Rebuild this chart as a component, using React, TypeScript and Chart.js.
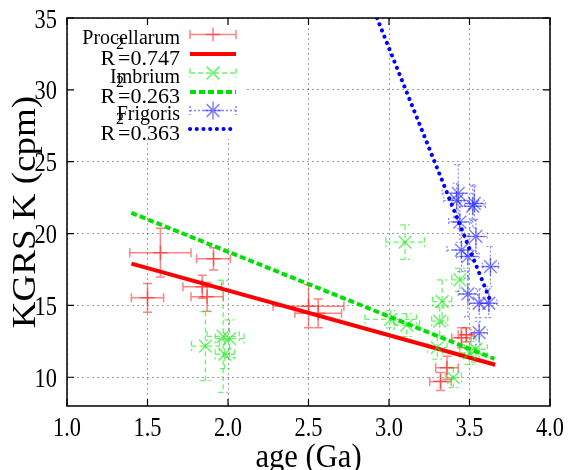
import React, { useEffect, useRef } from 'react';
import { Chart, registerables } from 'chart.js';

Chart.register(...registerables);

// ---------- data ----------
const xTicks = [1.0, 1.5, 2.0, 2.5, 3.0, 3.5, 4.0];
const yTicks = [10, 15, 20, 25, 30, 35];

const procAge = [1.50, 1.58, 1.84, 1.87, 1.91, 2.50, 2.56, 3.32, 3.36, 3.45, 3.48];
const procK = [15.53, 18.67, 16.3, 15.6, 18.24, 14.95, 14.45, 9.7, 10.67, 12.75, 12.95];
const procAgeErr = [0.10, 0.19, 0.12, 0.10, 0.105, 0.22, 0.145, 0.067, 0.07, 0.06, 0.05];
const procKErr = [1.0, 1.7, 0.8, 1.0, 0.78, 1.5, 1.0, 0.63, 0.8, 0.7, 0.5];

const imbAge = [1.86, 1.97, 2.01, 1.98, 3.01, 3.10, 3.11, 3.30, 3.315, 3.33, 3.44, 3.40, 3.50, 3.54];
const imbK = [12.17, 12.85, 12.69, 11.6, 14.03, 19.4, 13.63, 12.06, 13.9, 15.27, 16.78, 9.98, 11.7, 11.95];
const imbAgeErr = [0.087, 0.10, 0.09, 0.06, 0.16, 0.12, 0.08, 0.06, 0.05, 0.06, 0.05, 0.05, 0.06, 0.07];
const imbKErr = [2.4, 3.9, 1.3, 1.0, 0.6, 1.2, 0.8, 0.8, 1.0, 1.5, 0.8, 0.7, 0.8, 0.9];

const frigAge = [3.43, 3.42, 3.52, 3.53, 3.44, 3.54, 3.45, 3.49, 3.63, 3.49, 3.56, 3.62, 3.56];
const frigK = [22.8, 22.3, 21.9, 22.1, 20.8, 19.8, 18.85, 18.4, 17.7, 15.8, 15.15, 15.15, 13.1];
const frigAgeErr = [0.10, 0.08, 0.08, 0.06, 0.07, 0.07, 0.09, 0.07, 0.05, 0.06, 0.06, 0.05, 0.05];
const frigKErr = [2.0, 1.2, 1.5, 1.2, 1.4, 1.2, 1.5, 1.5, 1.4, 1.6, 1.0, 1.0, 0.8];

const procFitAge = [1.4, 3.66];
const procFitK = [17.91, 10.87];
const imbFitAge = [1.4, 3.655];
const imbFitK = [21.44, 11.28];
const frigFitAge = [2.925, 3.636];
const frigFitK = [35.0, 15.14];

const seriesNames = ['Procellarum', 'Imbrium', 'Frigoris'];
const r2Values = ['0.747', '0.263', '0.363'];

const xTitle = 'age (Ga)';
const yTitle = 'KGRS K (cpm)';

// ---------- styles ----------
const FONT = '"Liberation Serif", "Times New Roman", serif';
const RED_M = 'rgba(255,30,30,0.55)';
const GREEN_M = 'rgba(30,235,30,0.65)';
const BLUE_M = 'rgba(30,30,255,0.55)';
const RED_L = '#ff0000';
const GREEN_L = '#00e000';
const BLUE_L = '#0000ff';

const pts = (xs: number[], ys: number[]) => xs.map((x, i) => ({ x, y: ys[i] }));

function drawText(ctx: CanvasRenderingContext2D, text: string, x: number, y: number, size: number, align: CanvasTextAlign, sx = 1) {
  ctx.save();
  ctx.translate(x, y);
  ctx.scale(sx, 1);
  ctx.font = `${size}px ${FONT}`;
  ctx.textAlign = align;
  ctx.textBaseline = 'alphabetic';
  ctx.fillStyle = '#000';
  ctx.fillText(text, 0, 0);
  ctx.restore();
}

function marker(ctx: CanvasRenderingContext2D, kind: string, x: number, y: number, r: number) {
  ctx.beginPath();
  if (kind === 'cross' || kind === 'star') {
    ctx.moveTo(x - r, y); ctx.lineTo(x + r, y);
    ctx.moveTo(x, y - r); ctx.lineTo(x, y + r);
  }
  if (kind === 'crossRot' || kind === 'star') {
    const d = r * Math.SQRT1_2;
    ctx.moveTo(x - d, y - d); ctx.lineTo(x + d, y + d);
    ctx.moveTo(x - d, y + d); ctx.lineTo(x + d, y - d);
  }
  ctx.stroke();
}

const errSeries = [
  { xs: procAge, ys: procK, ex: procAgeErr, ey: procKErr, color: RED_M, dash: [] as number[], cap: 4.5, width: 1.5 },
  { xs: imbAge, ys: imbK, ex: imbAgeErr, ey: imbKErr, color: GREEN_M, dash: [5, 3], cap: 5, width: 1.3 },
  { xs: frigAge, ys: frigK, ex: frigAgeErr, ey: frigKErr, color: BLUE_M, dash: [2, 2], cap: 4, width: 1.1 },
];

const gnuPlugin = {
  id: 'gnu',
  beforeDatasetsDraw(chart: any) {
    const { ctx, chartArea: a, scales } = chart;
    const sx = scales.x, sy = scales.y;
    ctx.save();
    ctx.fillStyle = '#fff';
    ctx.fillRect(a.left + 1, a.top + 1, 243 - a.left, 138 - a.top);
    ctx.beginPath();
    ctx.rect(a.left, a.top, a.right - a.left, a.bottom - a.top);
    ctx.clip();
    for (const s of errSeries) {
      ctx.strokeStyle = s.color;
      ctx.lineWidth = s.width;
      ctx.setLineDash(s.dash);
      for (let i = 0; i < s.xs.length; i++) {
        const px = sx.getPixelForValue(s.xs[i]);
        const py = sy.getPixelForValue(s.ys[i]);
        const x1 = sx.getPixelForValue(s.xs[i] - s.ex[i]);
        const x2 = sx.getPixelForValue(s.xs[i] + s.ex[i]);
        const y1 = sy.getPixelForValue(s.ys[i] + s.ey[i]);
        const y2 = sy.getPixelForValue(s.ys[i] - s.ey[i]);
        const c = s.cap;
        ctx.beginPath();
        ctx.moveTo(x1, py); ctx.lineTo(x2, py);
        ctx.moveTo(px, y1); ctx.lineTo(px, y2);
        ctx.moveTo(x1, py - c); ctx.lineTo(x1, py + c);
        ctx.moveTo(x2, py - c); ctx.lineTo(x2, py + c);
        ctx.moveTo(px - c, y1); ctx.lineTo(px + c, y1);
        ctx.moveTo(px - c, y2); ctx.lineTo(px + c, y2);
        ctx.stroke();
      }
    }
    ctx.restore();
  },
  afterDraw(chart: any) {
    const { ctx, chartArea: a, scales } = chart;
    const sx = scales.x, sy = scales.y;
    ctx.save();
    ctx.strokeStyle = '#000';
    ctx.lineWidth = 1.5;
    ctx.setLineDash([]);
    ctx.strokeRect(a.left, a.top, a.right - a.left, a.bottom - a.top);
    const tl = 7;
    ctx.lineWidth = 1.2;
    ctx.beginPath();
    for (const v of xTicks) {
      const px = sx.getPixelForValue(v);
      ctx.moveTo(px, a.bottom); ctx.lineTo(px, a.bottom - tl);
      ctx.moveTo(px, a.top); ctx.lineTo(px, a.top + tl);
    }
    for (const v of yTicks) {
      const py = sy.getPixelForValue(v);
      ctx.moveTo(a.left, py); ctx.lineTo(a.left + tl, py);
      ctx.moveTo(a.right, py); ctx.lineTo(a.right - tl, py);
    }
    ctx.stroke();
    for (const v of xTicks) {
      drawText(ctx, v.toFixed(1), sx.getPixelForValue(v), 436, 28, 'center', 0.8);
    }
    for (const v of yTicks) {
      drawText(ctx, String(v), 57, sy.getPixelForValue(v) + 9.5, 28, 'right', 0.8);
    }
    drawText(ctx, xTitle, (a.left + a.right) / 2, 467, 34, 'center', 0.9);
    ctx.save();
    ctx.translate(34.5, (a.top + a.bottom) / 2);
    ctx.rotate(-Math.PI / 2);
    ctx.scale(1, 0.89);
    ctx.font = `37px ${FONT}`;
    ctx.textAlign = 'center';
    ctx.textBaseline = 'alphabetic';
    ctx.fillStyle = '#000';
    ctx.fillText(yTitle, 0, 0);
    ctx.restore();

    // key
    const rows = [34.5, 54, 73, 92, 110.5, 129];
    const tx = 180, s0 = 190, s1 = 236;
    const mColors = [RED_M, GREEN_M, BLUE_M];
    const lColors = [RED_L, GREEN_L, BLUE_L];
    const mDash = [[], [5, 3], [2, 2]];
    const mKind = ['cross', 'crossRot', 'star'];
    for (let k = 0; k < 3; k++) {
      const yS = rows[2 * k];
      const yL = rows[2 * k + 1];
      drawText(ctx, seriesNames[k], tx, yS + 9.5, 20, 'right');
      ctx.font = `22px ${FONT}`;
      const rest = '=' + r2Values[k];
      const wRest = ctx.measureText(rest).width;
      const base = yL + 11;
      drawText(ctx, rest, tx, base, 22, 'right');
      drawText(ctx, 'R', tx - wRest - 3, base, 22, 'right');
      drawText(ctx, '2', tx - wRest - 2, base - 16, 16, 'left');
      ctx.strokeStyle = mColors[k];
      ctx.lineWidth = 1.5;
      ctx.setLineDash(mDash[k]);
      ctx.beginPath();
      ctx.moveTo(s0, yS); ctx.lineTo(s1, yS);
      ctx.moveTo(s0, yS - 4.5); ctx.lineTo(s0, yS + 4.5);
      ctx.moveTo(s1, yS - 4.5); ctx.lineTo(s1, yS + 4.5);
      ctx.stroke();
      ctx.setLineDash([]);
      marker(ctx, mKind[k], (s0 + s1) / 2, yS, mKind[k] === 'cross' ? 7 : 9);
      ctx.strokeStyle = lColors[k];
      ctx.lineWidth = 4;
      if (k === 0) { ctx.setLineDash([]); ctx.lineCap = 'butt'; }
      if (k === 1) { ctx.setLineDash([6, 3]); ctx.lineCap = 'butt'; }
      if (k === 2) { ctx.setLineDash([0.1, 6.6]); ctx.lineCap = 'round'; }
      ctx.beginPath();
      ctx.moveTo(s0, yL); ctx.lineTo(k === 2 ? 232 : s1, yL);
      ctx.stroke();
      ctx.lineCap = 'butt';
      ctx.setLineDash([]);
    }
    ctx.restore();
  },
};

export default function App() {
  const ref = useRef<HTMLCanvasElement | null>(null);
  useEffect(() => {
    if (!ref.current) return;
    const gridCommon = { color: 'rgba(0,0,0,0.38)', lineWidth: 1, drawTicks: false };
    const chart = new Chart(ref.current, {
      type: 'scatter',
      data: {
        datasets: [
          { label: seriesNames[0], data: pts(procAge, procK), showLine: false, pointStyle: 'cross', pointRadius: 7, pointBorderColor: RED_M, pointBackgroundColor: RED_M, pointBorderWidth: 1.5, order: 5 } as any,
          { label: 'fit0', data: pts(procFitAge, procFitK), showLine: true, borderColor: RED_L, borderWidth: 4, pointRadius: 0, fill: false, order: 4 } as any,
          { label: seriesNames[1], data: pts(imbAge, imbK), showLine: false, pointStyle: 'crossRot', pointRadius: 9, pointBorderColor: GREEN_M, pointBackgroundColor: GREEN_M, pointBorderWidth: 1.5, order: 3 } as any,
          { label: 'fit1', data: pts(imbFitAge, imbFitK), showLine: true, borderColor: GREEN_L, borderWidth: 4, borderDash: [6, 3], pointRadius: 0, fill: false, order: 2 } as any,
          { label: seriesNames[2], data: pts(frigAge, frigK), showLine: false, pointStyle: 'star', pointRadius: 9, pointBorderColor: BLUE_M, pointBackgroundColor: BLUE_M, pointBorderWidth: 1.5, order: 1 } as any,
          { label: 'fit2', data: pts(frigFitAge, frigFitK), showLine: true, borderColor: BLUE_L, borderWidth: 4, borderDash: [0.1, 6.6], borderCapStyle: 'round', pointRadius: 0, fill: false, order: 0 } as any,
        ],
      },
      options: {
        animation: false,
        responsive: false,
        devicePixelRatio: 1,
        events: [],
        layout: { padding: { left: 67, right: 18, top: 18, bottom: 64 } },
        plugins: { legend: { display: false }, tooltip: { enabled: false }, title: { display: false } },
        scales: {
          x: {
            type: 'linear', min: 1, max: 4,
            afterBuildTicks: (s: any) => { s.ticks = xTicks.map((v) => ({ value: v })); },
            afterFit: (s: any) => { s.height = 0; },
            ticks: { display: false },
            grid: gridCommon,
            border: { display: false, dash: [2, 3] },
          },
          y: {
            type: 'linear', min: 8, max: 35,
            afterBuildTicks: (s: any) => { s.ticks = yTicks.map((v) => ({ value: v })); },
            afterFit: (s: any) => { s.width = 0; },
            ticks: { display: false },
            grid: gridCommon,
            border: { display: false, dash: [2, 3] },
          },
        },
      } as any,
      plugins: [gnuPlugin],
    });
    return () => chart.destroy();
  }, []);
  return (
    <canvas
      ref={ref}
      width={568}
      height={470}
      style={{ position: 'fixed', left: 0, top: 0, width: 568, height: 470, background: '#fff' }}
    />
  );
}
